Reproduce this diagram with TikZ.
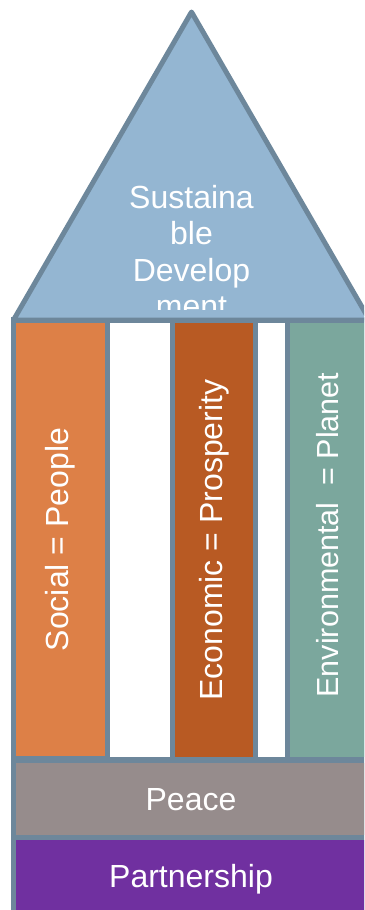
\documentclass[tikz,border=0pt]{standalone}
\usepackage{fontspec}
\setmainfont{Liberation Sans}
\definecolor{frameC}{HTML}{6D879B}
\definecolor{triC}{HTML}{94B6D2}
\definecolor{orangeC}{HTML}{DD8047}
\definecolor{brownC}{HTML}{B85A23}
\definecolor{tealC}{HTML}{7BA79D}
\definecolor{grayC}{HTML}{968C8C}
\definecolor{purpleC}{HTML}{7030A0}
\begin{document}
\begin{tikzpicture}[x=1pt,y=-1pt,
  lbl/.style={text=white,font=\fontsize{32}{36.5}\selectfont},
  pillar/.style={inner sep=0pt,rotate=90,minimum height=#1},
  band/.style={inner sep=0pt,minimum width=350pt,minimum height=72pt,text depth=0pt}]
\useasboundingbox (0,0) rectangle (364,910);
\clip (0,0) rectangle (364,910);
% body frame
\fill[frameC] (11,317) rectangle (372,920);
% pillars (rotated: minimum width = vertical extent)
\node[pillar=89pt, minimum width=433pt, fill=orangeC, lbl] (social) at (60.5,539.5) {Social = People};
\node[pillar=60pt, minimum width=434pt, fill=white] (gap1) at (140,540) {};
\node[pillar=78pt, minimum width=434pt, fill=brownC, lbl] (econ) at (214,540) {Economic = Prosperity};
\node[pillar=27pt, minimum width=434pt, fill=white] (gap2) at (271.5,540) {};
\node[pillar=76pt, minimum width=434pt, fill=tealC, lbl, font=\fontsize{30.5}{35}\selectfont] (env) at (328,540) {\hspace*{10pt}Environmental \ = Planet};
% bands
\node[band, fill=grayC, lbl] (peace) at (191,799) {Peace};
\node[band, fill=purpleC, lbl] (partner) at (191,876) {Partnership};
% roof
\coordinate (apex) at (191.5,12);
\coordinate (bl) at (13.5,320);
\coordinate (br) at (369.5,320);
\filldraw[fill=triC, draw=frameC, line width=5pt, line join=round] (apex) -- (bl) -- (br) -- cycle;
\begin{scope}
  \clip (apex) -- (bl) -- (br) -- cycle;
  \clip (0,0) rectangle (364,309);
  \node[lbl, align=center, inner sep=0pt, anchor=north] (sd) at (191.5,184.8) {Sustaina\\ble\\Develop\\ment};
\end{scope}
\end{tikzpicture}
\end{document}
